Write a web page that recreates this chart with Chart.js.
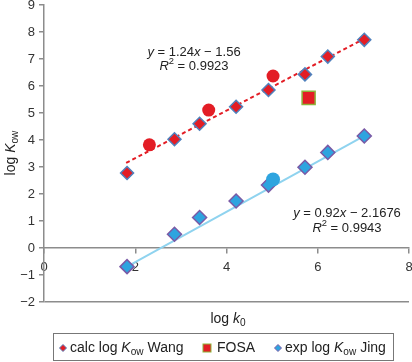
<!DOCTYPE html>
<html>
<head>
<meta charset="utf-8">
<script src="https://cdn.jsdelivr.net/npm/chart.js@4"></script>
<style>
  html, body { margin: 0; padding: 0; background: #fff; }
  #wrap { width: 412px; height: 362px; }
</style>
</head>
<body>
<div id="wrap"><canvas id="myChart" width="412" height="362"></canvas></div>
<script>
// values
const wangX = [1.82, 2.86, 3.41, 4.21, 4.92, 5.72, 6.22, 7.02]
const wangY = [2.78, 4.03, 4.60, 5.23, 5.85, 6.43, 7.09, 7.71]
const jingX = [1.82, 2.86, 3.41, 4.21, 4.92, 5.72, 6.22, 7.02]
const jingY = [-0.69, 0.51, 1.13, 1.74, 2.33, 2.99, 3.54, 4.15]
const redCircleX = [2.31, 3.61, 5.02]
const redCircleY = [3.82, 5.11, 6.37]
const blueCircleX = [5.02]
const blueCircleY = [2.54]
const fosaX = [5.80]
const fosaY = [5.56]
const wangFitX = [1.80, 7.02]
const wangFitY = [3.15, 7.75]
const jingFitX = [1.82, 7.02]
const jingFitY = [-0.69, 4.15]
const xTicks = [0, 2, 4, 6, 8]
const yTicks = [-2, -1, 0, 1, 2, 3, 4, 5, 6, 7, 8, 9]

const FONT = '"Liberation Sans", Arial, sans-serif'
const RED = '#e31d25'
const BLUE = '#2ea4df'
const AXIS = '#8c8c8c'

function pts(xs, ys) {
  return xs.map((x, i) => ({x: x, y: ys[i]}))
}

// draw a run of text pieces: n = normal, i = italic, sub, sup
function rich(ctx, runs, x, y, size, align) {
  const fontFor = r => {
    const s = (r.s == 'sub' || r.s == 'sup') ? size * 0.72 : size
    return (r.s == 'i' ? 'italic ' : '') + s + 'px ' + FONT
  }
  let w = 0
  for (let r of runs) { ctx.font = fontFor(r); w += ctx.measureText(r.t).width }
  let cx = align == 'center' ? x - w / 2 : x
  ctx.textBaseline = 'middle'
  ctx.textAlign = 'left'
  for (let r of runs) {
    ctx.font = fontFor(r)
    let dy = 0
    if (r.s == 'sub') dy = size * 0.32
    if (r.s == 'sup') dy = -size * 0.38
    ctx.fillText(r.t, cx, y + dy)
    cx += ctx.measureText(r.t).width
  }
}

function diamond(ctx, x, y, r, fill, stroke, lw) {
  ctx.beginPath()
  ctx.moveTo(x - r, y); ctx.lineTo(x, y - r); ctx.lineTo(x + r, y); ctx.lineTo(x, y + r)
  ctx.closePath()
  ctx.fillStyle = fill; ctx.fill()
  if (stroke) { ctx.strokeStyle = stroke; ctx.lineWidth = lw; ctx.stroke() }
}

const extras = {
  id: 'extras',
  afterDraw(chart) {
    const ctx = chart.ctx
    ctx.save()
    ctx.fillStyle = '#222'
    // equations
    rich(ctx, [{t:'y', s:'i'}, {t:' = 1.24', s:'n'}, {t:'x', s:'i'}, {t:' \u2212 1.56', s:'n'}], 194, 52, 13, 'center')
    rich(ctx, [{t:'R', s:'i'}, {t:'2', s:'sup'}, {t:' = 0.9923', s:'n'}], 194, 66, 13, 'center')
    rich(ctx, [{t:'y', s:'i'}, {t:' = 0.92', s:'n'}, {t:'x', s:'i'}, {t:' \u2212 2.1676', s:'n'}], 347, 213, 13, 'center')
    rich(ctx, [{t:'R', s:'i'}, {t:'2', s:'sup'}, {t:' = 0.9943', s:'n'}], 347, 228, 13, 'center')
    // axis titles
    rich(ctx, [{t:'log ', s:'n'}, {t:'k', s:'i'}, {t:'0', s:'sub'}], 228, 319, 14, 'center')
    ctx.save()
    ctx.translate(11, 153)
    ctx.rotate(-Math.PI / 2)
    rich(ctx, [{t:'log ', s:'n'}, {t:'K', s:'i'}, {t:'ow', s:'sub'}], 0, 0, 14, 'center')
    ctx.restore()
    // legend box
    ctx.strokeStyle = '#777'
    ctx.lineWidth = 1
    ctx.strokeRect(53.5, 333.5, 340, 27)
    const ly = 348
    diamond(ctx, 63, ly, 3.5, RED, '#4f81bd', 1)
    ctx.fillStyle = '#222'
    rich(ctx, [{t:'calc log ', s:'n'}, {t:'K', s:'i'}, {t:'ow', s:'sub'}, {t:' Wang', s:'n'}], 70, ly, 14, 'left')
    ctx.fillStyle = RED
    ctx.fillRect(203, ly - 4, 8, 8)
    ctx.strokeStyle = '#8db33a'
    ctx.strokeRect(203, ly - 4, 8, 8)
    ctx.fillStyle = '#222'
    rich(ctx, [{t:'FOSA', s:'n'}], 217, ly, 14, 'left')
    diamond(ctx, 278, ly, 3.5, BLUE, '#7a5aa6', 1)
    ctx.fillStyle = '#222'
    rich(ctx, [{t:'exp log ', s:'n'}, {t:'K', s:'i'}, {t:'ow', s:'sub'}, {t:' Jing', s:'n'}], 285, ly, 14, 'left')
    ctx.restore()
  }
}

const chart = new Chart('myChart', {
  type: 'scatter',
  data: {
    datasets: [
      {label: 'red circles', data: pts(redCircleX, redCircleY), pointStyle: 'circle',
        pointRadius: 6.5, backgroundColor: RED, borderColor: RED, borderWidth: 0},
      {label: 'blue circle', data: pts(blueCircleX, blueCircleY), pointStyle: 'circle',
        pointRadius: 7, backgroundColor: BLUE, borderColor: BLUE, borderWidth: 0},
      {label: 'FOSA', data: pts(fosaX, fosaY), pointStyle: 'rect',
        pointRadius: 9.2, backgroundColor: RED, borderColor: '#8db33a', borderWidth: 1.5},
      {label: 'calc log Kow Wang', data: pts(wangX, wangY), pointStyle: 'rectRot',
        pointRadius: 6.5, backgroundColor: RED, borderColor: '#4f81bd', borderWidth: 1.5},
      {label: 'exp log Kow Jing', data: pts(jingX, jingY), pointStyle: 'rectRot',
        pointRadius: 7, backgroundColor: BLUE, borderColor: '#7a5aa6', borderWidth: 1.5},
      {label: 'fit Wang', data: pts(wangFitX, wangFitY), showLine: true, pointRadius: 0,
        borderColor: RED, borderWidth: 2, borderDash: [4, 3]},
      {label: 'fit Jing', data: pts(jingFitX, jingFitY), showLine: true, pointRadius: 0,
        borderColor: '#8fd3ef', borderWidth: 2}
    ]
  },
  options: {
    responsive: false,
    animation: false,
    layout: {autoPadding: false, padding: {left: 0, top: 5, right: 3, bottom: 60}},
    plugins: {legend: {display: false}, tooltip: {enabled: false}},
    scales: {
      x: {
        type: 'linear',
        position: {y: 0},
        min: 0, max: 8,
        afterBuildTicks: s => { s.ticks = xTicks.map(v => ({value: v})) },
        afterFit: s => { s.paddingLeft = 0; s.paddingRight = 0 },
        border: {color: AXIS, width: 1.5},
        grid: {drawOnChartArea: false, tickLength: 5, tickColor: AXIS, lineWidth: 1.5},
        ticks: {font: {size: 13, family: FONT}, color: '#333', padding: 7,
          callback: v => String(v).replace('-', '\u2212')}
      },
      y: {
        type: 'linear',
        min: -2, max: 9,
        afterBuildTicks: s => { s.ticks = yTicks.map(v => ({value: v})) },
        afterFit: s => { s.width = 44; s.paddingTop = 0; s.paddingBottom = 0 },
        border: {color: AXIS, width: 1.5},
        grid: {
          color: c => (c.tick && c.tick.value == -2) ? AXIS : 'rgba(0,0,0,0)',
          lineWidth: 1.5, tickLength: 5, tickColor: AXIS
        },
        ticks: {font: {size: 13, family: FONT}, color: '#333', padding: 4,
          callback: v => String(v).replace('-', '\u2212')}
      }
    }
  },
  plugins: [extras]
})
</script>
</body>
</html>
